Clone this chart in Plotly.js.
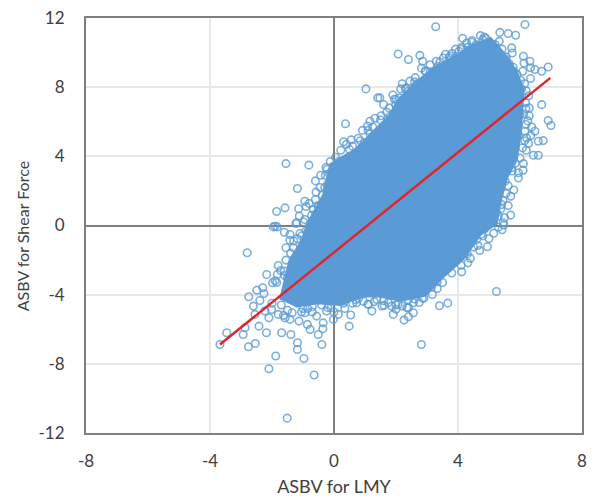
<!DOCTYPE html>
<html><head><meta charset="utf-8">
<script src="https://cdn.plot.ly/plotly-3.0.1.min.js"></script>
<style>html,body{margin:0;padding:0;background:#fff}#c{width:594px;height:501px}</style>
</head><body><div id="c"></div>
<script>
const xTitle = "ASBV for LMY";
const yTitle = "ASBV for Shear Force";
const xTicks = [-8,-4,0,4,8];
const yTicks = [-12,-8,-4,0,4,8,12];

// Outline of the saturated core of the cloud
const coreX = [-1.74,-1.45,-1.0,-0.88,-0.35,-0.12,0.68,1.33,1.75,2.08,2.5,3.15,3.95,4.6,5.05,5.5,5.88,6.12,6.08,6.02,5.9,5.58,5.38,5.25,4.72,4.17,3.42,2.95,2.15,1.48,0.94,0.19,-0.55,-1.25];
const coreY = [-4.28,-2.1,-0.7,0.05,1.75,3.55,4.4,5.55,6.3,7.3,8.05,9.05,9.85,10.55,10.85,9.95,8.95,7.9,6.7,5.35,3.8,2.75,1.45,0.1,-0.55,-1.95,-3.15,-4.05,-4.35,-4.1,-4.1,-4.6,-4.5,-4.7];

// Individually visible animals around the core
const animalX = [1.03,1.41,1.70,0.37,1.16,1.16,0.31,0.60,0.97,-1.55,-0.81,-0.26,-0.43,-0.60,-1.18,-0.58,-0.94,-0.80,-1.14,-1.58,-1.85,-1.2,-1.9,-0.94,-0.67,
 -1.96,-1.83,-1.23,-1.6,-1.42,-1.1,-1.42,-1.18,-1.55,-1.31,-2.8,-1.31,-1.8,-1.6,-2.17,-1.83,-1.98,-2.3,-2.49,-2.26,-2.75,-2.39,-2.6,-2.23,-2.1,-2.55,-2.87,-2.42,-3.46,-2.93,-2.18,-1.69,-1.39,-3.68,-2.76,-2.54,-1.18,-1.18,-0.39,-0.51,-1.88,-0.97,-2.1,-0.64,-1.51,-0.36,-0.86,-0.77,-0.35,-0.02,0.14,0.49,0.54,1.22,1.62,-1.58,-1.13,-1.42,-1.8,-2.01,-0.94,-0.56,-0.24,0.95,0.73,1.38,
 3.28,6.16,4.15,4.9,5.35,5.62,5.86,2.07,2.4,2.77,2.86,3.53,3.71,4.03,4.36,4.58,5.33,5.73,5.75,6.11,6.32,6.13,6.91,6.7,6.48,6.34,6.09,6.34,3.1,2.7,2.15,2.4,2.11,1.99,1.48,6.19,6.3,6.7,6.91,7.0,6.19,6.38,6.48,6.16,6.75,6.59,6.21,6.59,6.43,6.11,5.95,5.73,5.52,5.14,5.7,5.41,5.7,5.46,5.25,
 5.48,4.87,4.95,4.64,4.32,4.12,3.63,5.24,3.67,3.4,3.17,3.33,3.33,2.82,2.56,2.4,2.26,1.91,1.86,2.07,2.35,2.56,4.55,4.6,4.23,
 -1.63,-1.5,-1.35,-1.0,-0.7,-0.4,-0.1,0.3,0.7,1.1,1.6,2.0,2.4,2.9,3.0,-2.0,-1.7,-1.9,-1.5,-1.2,-0.9,-0.6,-0.3,0.1,0.45,0.9,1.3,1.8,2.2,2.7,3.6,3.9,4.3,
 -0.5,-0.3,-0.15,0.15,0.5,0.85,1.1,1.5,1.95,2.3,2.6,2.95,3.35,3.75,4.1,4.45,4.85,5.1,5.55,5.8,6.05,6.0,5.95,5.6,5.35,5.0,4.75];
const animalY = [7.9,7.38,6.55,5.88,6.03,5.3,4.84,4.59,4.78,3.58,3.49,3.35,2.91,2.58,2.14,1.93,1.4,1.27,0.97,1.02,0.81,0.16,-0.04,0.35,0.92,
 -0.08,-0.08,0.12,-0.39,-0.52,-0.46,-0.85,-0.77,-1.29,-1.29,-1.58,-2.06,-2.31,-2.64,-2.83,-2.83,-3.31,-3.6,-3.74,-3.93,-4.12,-4.34,-4.66,-4.95,-5.34,-5.14,-5.91,-5.82,-6.2,-6.3,-6.2,-6.2,-6.3,-6.88,-7.01,-6.82,-6.78,-7.17,-6.88,-6.3,-7.55,-7.69,-8.28,-8.65,-11.14,-5.97,-5.72,-6.01,-5.63,-5.43,-5.14,-5.82,-5.18,-4.95,-4.62,-5.34,-5.53,-5.43,-5.14,-4.86,-5.05,-5.24,-4.95,-4.38,-4.47,-4.28,
 11.49,11.62,10.82,10.82,11.17,11.1,11.0,9.92,9.6,9.84,9.5,9.69,9.69,10.08,10.13,10.46,10.65,10.27,9.98,9.79,9.5,9.4,9.17,8.92,9.02,9.12,8.92,8.5,8.88,8.21,7.9,7.76,7.38,6.99,7.38,6.76,6.8,6.99,6.07,5.78,5.84,5.7,5.45,5.45,4.91,4.87,5.07,4.06,4.06,3.58,3.05,3.34,2.56,1.98,1.69,1.21,0.6,0.16,0.73,
 0.02,-0.17,-1.23,-1.16,-2.16,-2.68,-2.54,-3.82,-4.49,-4.64,-3.99,-3.64,-3.25,-6.88,-5.05,-5.28,-5.47,-5.14,-4.66,-4.57,-4.76,-4.47,-0.42,-0.81,-1.58,
 -5.2,-4.9,-5.05,-4.8,-4.7,-4.6,-4.75,-4.5,-4.3,-4.55,-4.35,-4.6,-4.3,-4.2,-3.6,-4.5,-4.6,-3.2,-3.0,-1.7,-0.3,0.6,1.5,2.6,3.9,4.4,5.2,6.3,7.2,8.0,9.0,9.7,10.3,
 1.1,2.2,3.0,3.7,4.4,4.9,5.5,6.1,7.3,7.9,8.3,8.9,9.2,9.8,10.2,10.6,10.9,10.5,9.6,8.9,7.9,6.4,5.2,3.6,2.5,1.0,-0.5];

// Tightly packed rim of the cloud: upper-left, right and lower sides
const rimUpperX = [-1.85,-1.72,-1.6,-1.55,-1.4,-1.3,-1.25,-1.05,-1.12,-0.98,-0.9,-0.72,-0.6,-0.52,-0.45,-0.38,-0.28,-0.2,-0.22,-0.12,0.05,0.22,0.4,0.55,0.78,0.92,1.08,1.25,1.32,1.52,1.6,1.78,1.9,2.0,2.2,2.32,2.45,2.62,2.82,2.95,3.1,3.3,3.42,3.6,3.8,3.92,4.12,4.28,4.45,4.72,4.8];
const rimUpperY = [-3.3,-2.6,-2.9,-2.0,-1.6,-0.9,-1.85,-0.6,0.55,0.2,1.1,0.6,1.5,1.15,2.2,1.75,2.9,2.4,3.25,3.7,3.95,4.35,4.7,4.95,5.05,5.5,5.75,5.7,6.2,6.35,7.0,6.8,7.55,7.3,8.2,7.95,8.35,8.55,9.1,8.95,9.3,9.5,9.45,9.9,9.95,10.2,10.3,10.55,10.7,10.98,10.75];
const rimRightX = [5.2,5.42,5.55,5.65,5.78,5.9,6.02,6.15,6.2,6.28,6.18,6.3,6.25,6.12,6.35,6.28,6.15,6.2,6.08,6.0,6.1,5.85,5.95,5.75,5.62,5.8,5.55,5.45,5.62,5.38,5.5,5.3,5.42,5.15,5.3];
const rimRightY = [10.45,10.2,9.75,9.35,9.15,8.75,8.4,8.2,7.8,7.5,7.1,6.35,6.05,6.45,5.2,4.75,4.9,4.35,4.5,3.9,3.2,3.6,2.75,3.15,2.3,2.05,1.85,1.45,1.15,0.95,0.45,0.55,-0.25,-0.45,-0.1];
const rimLowerX = [5.0,4.8,4.7,4.5,4.4,4.3,4.1,3.95,3.8,3.65,3.5,3.3,3.15,3.05,2.85,2.75,2.6,2.4,2.2,2.0,1.75,1.55,1.3,1.1,0.8,0.6,0.35,0.0,-0.2,-0.7,-0.85,-1.05];
const rimLowerY = [-0.75,-0.6,-1.45,-1.25,-1.9,-1.65,-2.3,-2.0,-2.75,-2.45,-3.3,-3.05,-3.55,-3.35,-4.2,-4.45,-4.25,-4.75,-4.65,-4.85,-4.45,-4.65,-4.4,-4.55,-4.2,-4.5,-4.8,-5.0,-4.75,-5.0,-4.8,-5.0];

const fitX = [-3.68,6.98];
const fitY = [-6.88,8.54];

const blue = "#5b9bd5";
const ink = "#404040";
const frame = "#7f7f7f";
const fontFam = 'Lato,"Open Sans",sans-serif';

function axis(ticks, range, tickGap){
  return {
    range:range, tickmode:"array", tickvals:ticks, ticktext:ticks.map(String),
    tickfont:{family:fontFam,size:17,color:ink},
    ticks:"outside", ticklen:tickGap, tickwidth:1, tickcolor:"rgba(0,0,0,0)",
    showgrid:true, gridcolor:"#e8e8e8", gridwidth:2,
    zeroline:true, zerolinecolor:frame, zerolinewidth:2,
    showline:true, linecolor:frame, linewidth:2, mirror:true, automargin:false
  };
}

const dots = {symbol:"circle-open",size:7.5,color:"rgba(91,155,213,0.8)",line:{width:1.6}};
const xAxis = axis(xTicks,[-8,8],12);
xAxis.title = {text:xTitle, font:{family:fontFam,size:18,color:ink}, standoff:10};
Plotly.newPlot("c",[
  {x:coreX,y:coreY,type:"scatter",mode:"lines",fill:"toself",fillcolor:blue,line:{color:blue,width:2},hoverinfo:"skip",showlegend:false},
  {x:animalX,y:animalY,type:"scatter",mode:"markers",marker:dots,showlegend:false},
  {x:rimUpperX,y:rimUpperY,type:"scatter",mode:"markers",marker:dots,showlegend:false},
  {x:rimRightX,y:rimRightY,type:"scatter",mode:"markers",marker:dots,showlegend:false},
  {x:rimLowerX,y:rimLowerY,type:"scatter",mode:"markers",marker:dots,showlegend:false},
  {x:fitX,y:fitY,type:"scatter",mode:"lines",line:{color:"#e0232d",width:2.4},showlegend:false}
],{
  width:594,height:501,
  margin:{l:86,r:12,t:18,b:68,pad:0},
  paper_bgcolor:"#fff",plot_bgcolor:"#fff",
  xaxis:xAxis,
  yaxis:axis(yTicks,[-12,12],16),
  annotations:[{text:yTitle,textangle:-90,showarrow:false,xref:"paper",yref:"paper",x:-0.128,y:0.473,xanchor:"center",yanchor:"middle",font:{family:fontFam,size:16,color:ink}}],
  showlegend:false
},{displayModeBar:false,staticPlot:true});
</script></body></html>
